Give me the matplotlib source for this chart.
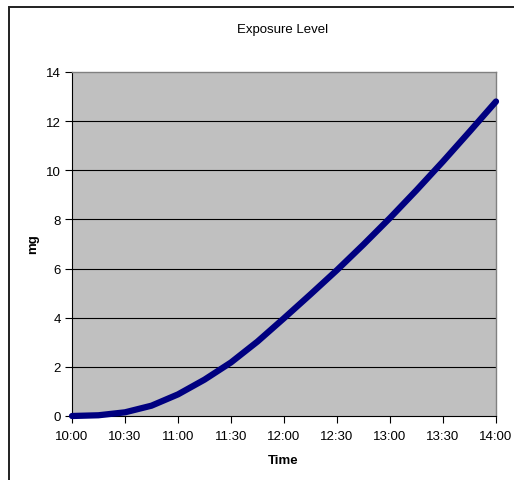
import matplotlib
matplotlib.use('Agg')
import matplotlib.pyplot as plt
from matplotlib.patches import Rectangle

plt.rcParams['font.family'] = ['Liberation Sans', 'DejaVu Sans']

# ── data: exposure readings every 15 min from 10:00 ───────────────────────
minutes = [0, 15, 30, 45, 60, 75, 90, 105, 120, 135, 150, 165, 180, 195, 210, 225, 240]
exposure_mg = [0.0, 0.03, 0.15, 0.42, 0.88, 1.48, 2.18, 3.03, 3.98, 4.95,
               5.94, 6.98, 8.06, 9.19, 10.36, 11.57, 12.8]

tick_minutes = [0, 30, 60, 90, 120, 150, 180, 210, 240]
tick_labels = ['10:00', '10:30', '11:00', '11:30', '12:00',
               '12:30', '13:00', '13:30', '14:00']
y_ticks = [0, 2, 4, 6, 8, 10, 12, 14]

FS = 9.5

fig = plt.figure(figsize=(5.14, 4.81), dpi=100)
fig.patch.set_facecolor('white')

# chart-area frame, runs off the right/bottom edges
frame = Rectangle((9 / 514, -0.2), 1.2, 1 - 8 / 481 + 0.2,
                  transform=fig.transFigure, fill=False,
                  edgecolor='#202020', lw=1.4, clip_on=False)
fig.patches.append(frame)

ax = fig.add_axes([72 / 514, 1 - 417 / 481, 424 / 514, 344 / 481])
ax.set_facecolor('#C0C0C0')

for v in y_ticks[1:-1]:
    ax.axhline(v, color='black', lw=0.8, zorder=1)

ax.plot(minutes, exposure_mg, color='#000080', lw=4.5,
        solid_capstyle='round', solid_joinstyle='round',
        clip_on=False, zorder=3)

ax.set_xlim(0, 240)
ax.set_ylim(0, 14)
ax.set_xticks(tick_minutes)
ax.set_xticklabels(tick_labels)
ax.set_yticks(y_ticks)

ax.tick_params(axis='both', direction='out', length=5, width=0.8,
               labelsize=FS, colors='black')
ax.tick_params(axis='x', pad=5)
ax.tick_params(axis='y', pad=3)

for side in ('top', 'right'):
    ax.spines[side].set_color('#808080')
    ax.spines[side].set_linewidth(1.0)
for side in ('left', 'bottom'):
    ax.spines[side].set_color('black')
    ax.spines[side].set_linewidth(0.8)

fig.text(283 / 514, 1 - 30 / 481, 'Exposure Level', ha='center', va='center',
         fontsize=FS)
fig.text(283 / 514, 1 - 461 / 481, 'Time', ha='center', va='center',
         fontsize=FS, fontweight='bold')
fig.text(33 / 514, 1 - 244 / 481, 'mg', ha='center', va='center',
         fontsize=FS, fontweight='bold', rotation=90)

fig.savefig('out.png', dpi=100)
